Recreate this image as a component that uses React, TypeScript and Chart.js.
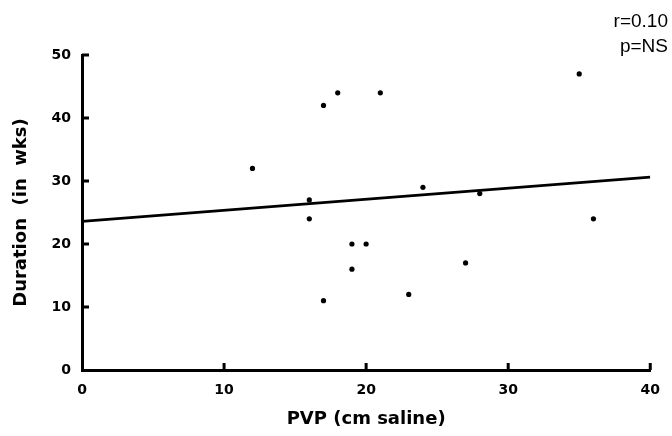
import React, { useEffect, useRef } from "react";
import { Chart, registerables } from "chart.js";

Chart.register(...registerables);

// Data
const pvp: number[] = [12, 16, 16, 17, 18, 21, 17, 19, 20, 19, 23, 24, 27, 28, 35, 36];
const duration: number[] = [32, 27, 24, 42, 44, 44, 11, 20, 20, 16, 12, 29, 17, 28, 47, 24];
const fitX: number[] = [0, 40];
const fitY: number[] = [23.6, 30.6];
const xTicks: number[] = [0, 10, 20, 30, 40];
const yTicks: number[] = [0, 10, 20, 30, 40, 50];
const xTitle = "PVP (cm saline)";
const yTitle = "Duration  (in  wks)";
const statLines: string[] = ["r=0.10", "p=NS"];

const BOLD_FONT = "'DejaVu Sans', 'Liberation Sans', Arial, sans-serif";
const STAT_FONT = "'Liberation Sans', Arial, Helvetica, sans-serif";

const innerTicks = {
  id: "innerTicks",
  afterDraw(chart: any) {
    const ctx = chart.ctx;
    const x = chart.scales.x;
    const y = chart.scales.y;
    const area = chart.chartArea;
    ctx.save();
    ctx.strokeStyle = "#000";
    ctx.lineWidth = 3;
    ctx.lineCap = "butt";
    yTicks.forEach((v) => {
      if (v === 0) return;
      const py = y.getPixelForValue(v);
      ctx.beginPath();
      ctx.moveTo(area.left, py);
      ctx.lineTo(area.left + 7, py);
      ctx.stroke();
    });
    xTicks.forEach((v) => {
      if (v === 0) return;
      const px = x.getPixelForValue(v);
      ctx.beginPath();
      ctx.moveTo(px, area.bottom);
      ctx.lineTo(px, area.bottom - 7);
      ctx.stroke();
    });
    ctx.fillStyle = "#000";
    ctx.font = `19px ${STAT_FONT}`;
    ctx.textAlign = "right";
    ctx.textBaseline = "alphabetic";
    statLines.forEach((s, i) => {
      ctx.fillText(s, 668, 27 + i * 25);
    });
    ctx.restore();
  },
};

export default function App() {
  const ref = useRef<HTMLCanvasElement | null>(null);
  useEffect(() => {
    document.body.style.margin = "0";
    const canvas = ref.current;
    if (!canvas) return;
    const chart = new Chart(canvas, {
      type: "scatter",
      data: {
        datasets: [
          {
            type: "scatter",
            data: pvp.map((v, i) => ({ x: v, y: duration[i] })),
            backgroundColor: "#000",
            borderColor: "#000",
            pointRadius: 2.6,
            pointBorderWidth: 0,
          },
          {
            type: "line",
            data: fitX.map((v, i) => ({ x: v, y: fitY[i] })),
            borderColor: "#000",
            borderWidth: 2.8,
            pointRadius: 0,
            fill: false,
          } as any,
        ],
      },
      options: {
        animation: false,
        responsive: false,
        maintainAspectRatio: false,
        layout: { padding: { left: 0, top: 55, right: 20, bottom: 0 } },
        plugins: {
          legend: { display: false },
          tooltip: { enabled: false },
        },
        scales: {
          x: {
            type: "linear",
            min: 0,
            max: 40,
            afterBuildTicks: (s: any) => {
              s.ticks = xTicks.map((v) => ({ value: v }));
            },
            afterFit: (s: any) => {
              s.height = 66;
            },
            grid: { color: "rgba(0,0,0,0)", drawTicks: false },
            border: { display: true, color: "#000", width: 3 },
            ticks: {
              color: "#000",
              padding: 12,
              font: { family: BOLD_FONT, size: 14, weight: "bold" },
            },
            title: {
              display: true,
              text: xTitle,
              color: "#000",
              font: { family: BOLD_FONT, size: 18, weight: "bold" },
              padding: { top: 0, bottom: 6 },
            },
          },
          y: {
            type: "linear",
            min: 0,
            max: 50,
            afterBuildTicks: (s: any) => {
              s.ticks = yTicks.map((v) => ({ value: v }));
            },
            afterFit: (s: any) => {
              s.width = 82;
            },
            grid: { color: "rgba(0,0,0,0)", drawTicks: false },
            border: { display: true, color: "#000", width: 3 },
            ticks: {
              color: "#000",
              padding: 11,
              font: { family: BOLD_FONT, size: 14, weight: "bold" },
            },
            title: {
              display: true,
              text: yTitle,
              color: "#000",
              font: { family: BOLD_FONT, size: 18, weight: "bold" },
              padding: { top: 11, bottom: 0 },
            },
          },
        },
      },
      plugins: [innerTicks],
    });
    return () => chart.destroy();
  }, []);
  return (
    <div style={{ width: 672, height: 436 }}>
      <canvas ref={ref} width={672} height={436} style={{ display: "block" }} />
    </div>
  );
}
